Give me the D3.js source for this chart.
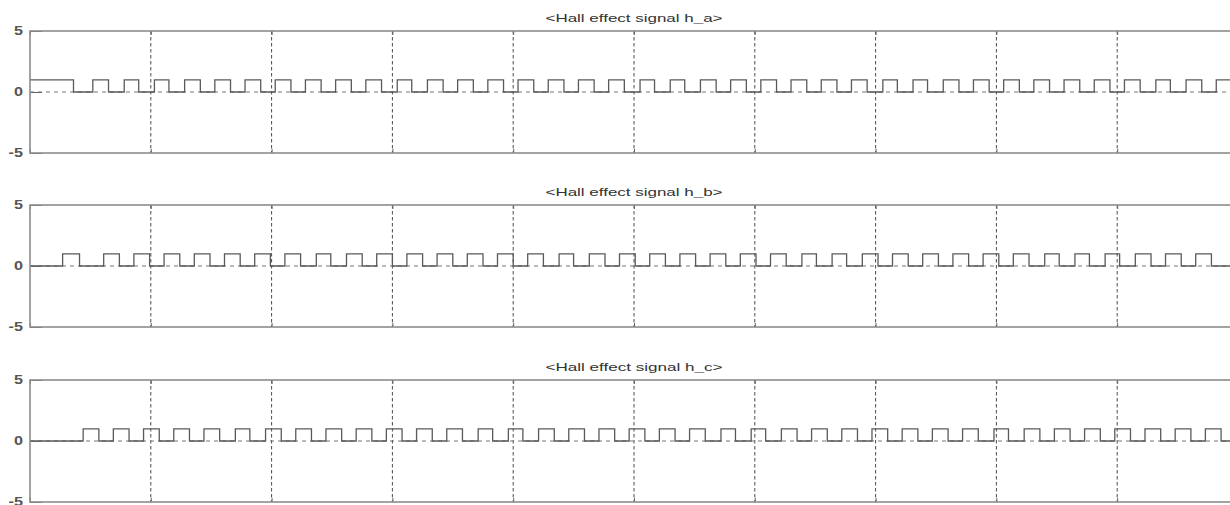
<!DOCTYPE html>
<html>
<head>
<meta charset="utf-8">
<script src="https://cdn.jsdelivr.net/npm/d3@7"></script>
<style>
  body { margin: 0; background: #fff; }
  svg { display: block; font-family: "Liberation Sans", Arial, sans-serif; }
</style>
</head>
<body>
<svg id="scope" width="1230" height="505"></svg>
<script>
// time grid (one division per unit) and level ticks
let timeTicks = [0, 1, 2, 3, 4, 5, 6, 7, 8, 9, 10]
let levelTicks = [-5, 0, 5]
let panelTitles = ["<Hall effect signal h_a>", "<Hall effect signal h_b>", "<Hall effect signal h_c>"]
let startLevels = [1, 0, 0]

// switching instants, each one toggles the level 0 <-> 1
let haEdges = [0.36, 0.52, 0.65, 0.78, 0.90,
  1.03, 1.15, 1.28, 1.41, 1.53, 1.66, 1.78, 1.91, 2.03, 2.16, 2.28, 2.41, 2.53, 2.66, 2.78, 2.91,
  3.04, 3.16, 3.29, 3.42, 3.54, 3.67, 3.79, 3.92, 4.04, 4.17, 4.29, 4.42, 4.54, 4.67, 4.79, 4.92,
  5.05, 5.17, 5.30, 5.42, 5.55, 5.68, 5.80, 5.93, 6.05, 6.18, 6.30, 6.43, 6.55, 6.68, 6.80, 6.93,
  7.06, 7.18, 7.31, 7.43, 7.56, 7.69, 7.81, 7.94, 8.06, 8.19, 8.31, 8.44, 8.56, 8.69, 8.81, 8.94,
  9.06, 9.19, 9.32, 9.44, 9.57, 9.70, 9.82, 9.95]
let hbEdges = [0.27, 0.41, 0.61, 0.74, 0.86, 0.99,
  1.11, 1.24, 1.36, 1.49, 1.61, 1.74, 1.86, 1.99, 2.11, 2.24, 2.37, 2.49, 2.62, 2.75, 2.87, 3.00,
  3.12, 3.25, 3.37, 3.50, 3.62, 3.75, 3.87, 4.00, 4.12, 4.25, 4.38, 4.50, 4.63, 4.76, 4.88, 5.01,
  5.13, 5.26, 5.38, 5.51, 5.63, 5.76, 5.88, 6.01, 6.13, 6.26, 6.39, 6.51, 6.64, 6.76, 6.89, 7.02,
  7.14, 7.27, 7.39, 7.52, 7.64, 7.77, 7.89, 8.02, 8.14, 8.27, 8.40, 8.52, 8.65, 8.77, 8.90, 9.02,
  9.15, 9.28, 9.40, 9.53, 9.65, 9.78, 9.95]
let hcEdges = [0.44, 0.57, 0.69, 0.82,
  0.94, 1.07, 1.19, 1.32, 1.44, 1.57, 1.70, 1.82, 1.95, 2.08, 2.20, 2.33, 2.45, 2.58, 2.70, 2.83,
  2.95, 3.08, 3.20, 3.33, 3.45, 3.58, 3.71, 3.83, 3.96, 4.08, 4.21, 4.34, 4.46, 4.59, 4.71, 4.84,
  4.96, 5.09, 5.21, 5.34, 5.46, 5.59, 5.72, 5.84, 5.97, 6.09, 6.22, 6.35, 6.47, 6.60, 6.72, 6.85,
  6.97, 7.10, 7.22, 7.35, 7.47, 7.60, 7.72, 7.85, 7.98, 8.10, 8.23, 8.36, 8.48, 8.61, 8.73, 8.86,
  8.98, 9.11, 9.23, 9.36, 9.48, 9.61, 9.73, 9.86, 9.99]

let svg = d3.select("#scope")
let left = 30
let plotWidth = 1208
let plotHeight = 122
let panelTops = [31, 205, 380]

let x = d3.scaleLinear().domain([0, 10]).range([left, left + plotWidth])

function toSteps(start, edges) {
    let level = start
    let pts = [[0, level]]
    edges.forEach(t => {
        level = 1 - level
        pts.push([t, level])
    })
    pts.push([10, level])
    return pts
}

let signals = [haEdges, hbEdges, hcEdges]

signals.forEach((edges, i) => {
    let top = panelTops[i]
    let y = d3.scaleLinear().domain([-5, 5]).range([top + plotHeight, top])
    let g = svg.append("g")

    g.append("clipPath").attr("id", "clip" + i)
        .append("rect")
        .attr("x", left).attr("y", top)
        .attr("width", plotWidth).attr("height", plotHeight)

    // dotted grid
    g.selectAll(".vgrid")
        .data(timeTicks.slice(1, -1))
        .enter()
        .append("line")
        .attr("x1", d => x(d)).attr("x2", d => x(d))
        .attr("y1", top).attr("y2", top + plotHeight)
        .attr("stroke", "#4a4a4a")
        .attr("stroke-width", 1)
        .attr("stroke-dasharray", "3.5,2.5")
    g.append("line")
        .attr("x1", left).attr("x2", left + plotWidth)
        .attr("y1", y(0)).attr("y2", y(0))
        .attr("stroke", "#777")
        .attr("stroke-width", 1)
        .attr("stroke-dasharray", "4,4")

    // the trace
    let line = d3.line()
        .x(d => x(d[0]))
        .y(d => y(d[1]))
        .curve(d3.curveStepAfter)
    g.append("path")
        .datum(toSteps(startLevels[i], edges))
        .attr("clip-path", "url(#clip" + i + ")")
        .attr("d", line)
        .attr("fill", "none")
        .attr("stroke", "#5a5a5a")
        .attr("stroke-width", 1.3)

    // inward ticks
    let xTop = d3.axisTop(x).tickValues(timeTicks).tickSize(-4).tickFormat("")
    let xBottom = d3.axisBottom(x).tickValues(timeTicks).tickSize(-4).tickFormat("")
    g.append("g").attr("transform", `translate(0,${top})`).call(xTop)
    g.append("g").attr("transform", `translate(0,${top + plotHeight})`).call(xBottom)

    let yAxis = d3.axisLeft(y).tickValues(levelTicks).tickSize(-12).tickPadding(7)
        .tickFormat(d => String(d))
    let ya = g.append("g").attr("transform", `translate(${left},0)`).call(yAxis)
    ya.selectAll("text")
        .attr("x", -7 / 1.35)
        .attr("transform", "scale(1.35,1)")
        .attr("font-size", 12)
        .attr("font-weight", "bold")
        .attr("fill", "#555")
        .attr("font-family", "Liberation Sans, Arial, sans-serif")

    g.selectAll(".domain").remove()
    g.selectAll(".tick line").attr("stroke", "#666")

    // axes box
    g.append("rect")
        .attr("x", left).attr("y", top)
        .attr("width", plotWidth).attr("height", plotHeight)
        .attr("fill", "none")
        .attr("stroke", "#8c8c8c")
        .attr("stroke-width", 1.6)

    g.append("text")
        .attr("x", x(5))
        .attr("y", top - 9)
        .attr("text-anchor", "middle")
        .attr("font-size", 11.5)
        .attr("fill", "#333")
        .attr("textLength", 177)
        .attr("lengthAdjust", "spacingAndGlyphs")
        .text(panelTitles[i])
})
</script>
</body>
</html>
